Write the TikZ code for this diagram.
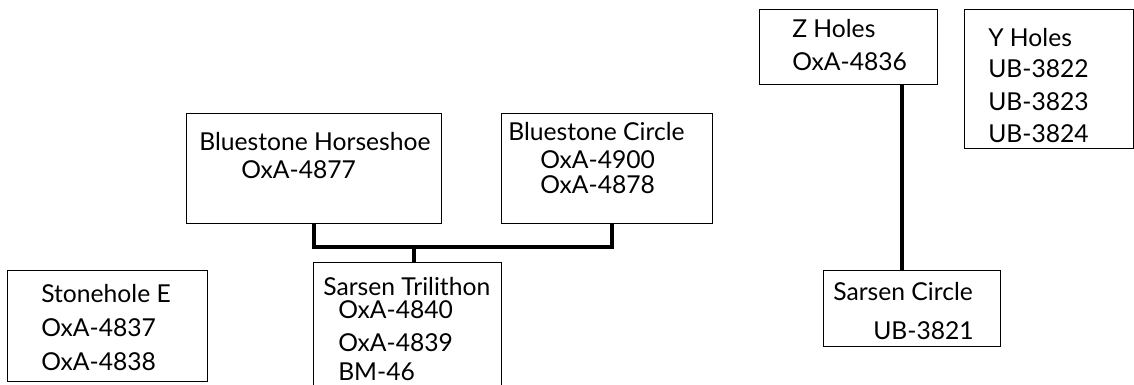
\documentclass[tikz,border=0pt]{standalone}
\usepackage{fontspec}
\setmainfont{Lato}
\usetikzlibrary{positioning}
\tikzset{
  datebox/.style={draw, rectangle, line width=1.1pt, inner sep=0pt, anchor=north west},
  entry/.style={anchor=base west, inner sep=0pt, font=\fontsize{18.5}{22}\selectfont},
  link/.style={line width=3pt},
}
% name, x, y, width, height (pixels)
\newcommand{\datebox}[5]{%
  \node[datebox, minimum width=#4*0.75pt, minimum height=#5*0.75pt] (#1) at (#2,#3) {};
}

\begin{document}
\begin{tikzpicture}[x=0.75pt,y=-0.75pt]
  \useasboundingbox (0,0) rectangle (1134,385);

  % boxes
  \datebox{bh}{186}{113}{255}{110}
  \datebox{bc}{501}{113}{211}{110}
  \datebox{se}{7}{270}{200}{111}
  \datebox{st}{313}{262}{188}{150}
  \datebox{zh}{759}{9}{178}{75}
  \datebox{yh}{964}{9}{169}{139}
  \datebox{sc}{823}{270}{177}{76}

  % texts
  \node[entry] (bh-1) at (199,150) {Bluestone Horseshoe};
  \node[entry] (bh-2) at (241,178) {OxA-4877};
  \node[entry] (bc-1) at (508,140) {Bluestone Circle};
  \node[entry] (bc-2) at (540,168) {OxA-4900};
  \node[entry] (bc-3) at (540,193) {OxA-4878};
  \node[entry] (se-1) at (41,302) {Stonehole E};
  \node[entry] (se-2) at (41,336) {OxA-4837};
  \node[entry] (se-3) at (41,370) {OxA-4838};
  \node[entry] (st-1) at (323,295) {Sarsen Trilithon};
  \node[entry] (st-2) at (338,318) {OxA-4840};
  \node[entry] (st-3) at (338,351) {OxA-4839};
  \node[entry] (st-4) at (338,380) {BM-46};
  \node[entry] (zh-1) at (792,38) {Z Holes};
  \node[entry] (zh-2) at (792,70) {OxA-4836};
  \node[entry] (yh-1) at (988,47) {Y Holes};
  \node[entry] (yh-2) at (988,78) {UB-3822};
  \node[entry] (yh-3) at (988,110) {UB-3823};
  \node[entry] (yh-4) at (988,142) {UB-3824};
  \node[entry] (sc-1) at (833,300) {Sarsen Circle};
  \node[entry] (sc-2) at (873,339) {UB-3821};

  % connectors
  \coordinate (stem) at (414,247);
  \draw[link] (bh.south) |- (stem) -| ([xshift=3.4pt]bc.south);
  \draw[link] (stem) -- (stem |- st.north);
  \draw[link] ([xshift=-7.9pt]sc.north) -- ([xshift=-7.9pt]sc.north |- zh.south);
\end{tikzpicture}
\end{document}
